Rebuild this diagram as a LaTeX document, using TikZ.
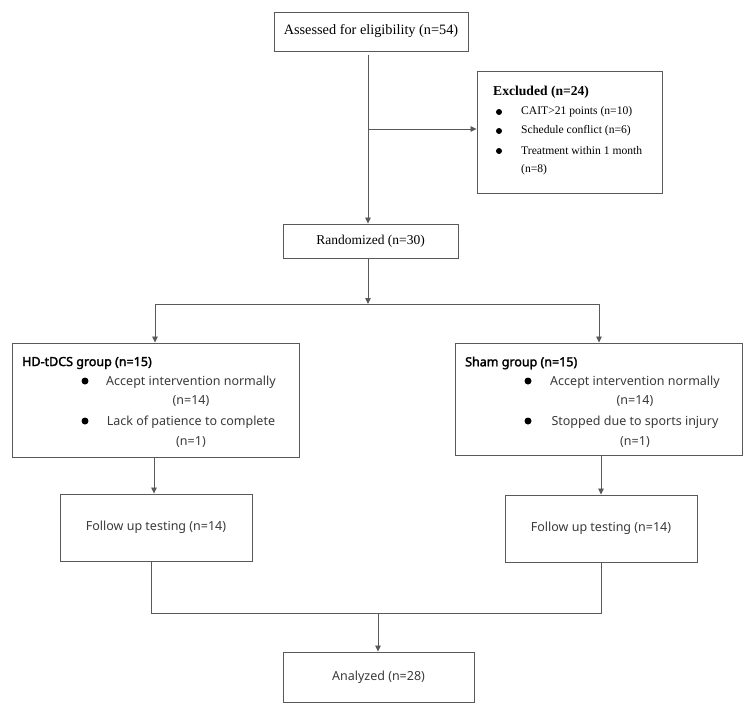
\documentclass[tikz,border=0pt]{standalone}
\usepackage{fontspec}
\setmainfont{Liberation Serif}
\newfontfamily\uisans{Noto Sans}
\newfontfamily\uisansbf[FakeBold=2.2]{Noto Sans}
\usetikzlibrary{arrows.meta}
\definecolor{lngray}{HTML}{595959}
\definecolor{txgray}{HTML}{3A3A3A}
\tikzset{
  box/.style={draw=lngray, line width=0.9pt, rectangle, inner sep=0pt},
  serifbig/.style={font=\fontsize{14.3}{16}\selectfont, text=black, inner sep=0pt},
  serifsmall/.style={font=\fontsize{11.6}{13}\selectfont, text=black, inner sep=0pt, anchor=west},
  sanstxt/.style={font=\uisans\fontsize{12.5}{14}\selectfont, text=txgray, inner sep=0pt},
  sanstitle/.style={font=\uisansbf\fontsize{12.5}{14}\selectfont, text=black, inner sep=0pt, anchor=west},
  conn/.style={draw=lngray, line width=0.8pt},
  arr/.style={conn, -{Triangle[length=6pt,width=5.5pt]}, shorten >=0pt},
  dot/.style={fill=black}
}
\begin{document}
\begin{tikzpicture}[x=1pt,y=-1pt]
\useasboundingbox (0,0) rectangle (751,709);
% boxes
\node[box, minimum width=194pt, minimum height=39pt] (A) at (371,31.5) {};
\node[serifbig] (At) at (371,31.5) {Assessed for eligibility (n=54)};
\node[box, minimum width=185pt, minimum height=122pt] (E) at (569.5,132) {};
\node[serifsmall, font=\bfseries\fontsize{13.6}{15}\selectfont] (Et) at (493,92) {Excluded (n=24)};
\node[serifsmall] (E1) at (521,112) {CAIT>21 points (n=10)};
\node[serifsmall] (E2) at (521,131) {Schedule conflict (n=6)};
\node[serifsmall] (E3) at (521,151) {Treatment within 1 month};
\node[serifsmall] (E4) at (521,170) {(n=8)};
\fill[dot] (499,112) circle (3pt) (499,131) circle (3pt) (499,151) circle (3pt);

\node[box, minimum width=175pt, minimum height=34pt] (R) at (370.5,241) {};
\node[serifbig, font=\fontsize{13.5}{15}\selectfont] (Rt) at (370.5,241) {Randomized (n=30)};

\node[box, minimum width=287pt, minimum height=114pt] (H) at (155.5,400) {};
\node[sanstitle] (Ht) at (22,363) {HD-tDCS group (n=15)};
\node[sanstxt] (H1) at (191,382) {Accept intervention normally};
\node[sanstxt] (H2) at (191,401) {(n=14)};
\node[sanstxt] (H3) at (191,422) {Lack of patience to complete};
\node[sanstxt] (H4) at (191,442) {(n=1)};
\fill[dot] (85,381) circle (3.5pt) (85,421) circle (3.5pt);

\node[box, minimum width=287pt, minimum height=112pt] (S) at (598.5,399) {};
\node[sanstitle] (St) at (465,363) {Sham group (n=15)};
\node[sanstxt] (S1) at (635,382) {Accept intervention normally};
\node[sanstxt] (S2) at (635,401) {(n=14)};
\node[sanstxt] (S3) at (635,422) {Stopped due to sports injury};
\node[sanstxt] (S4) at (635,442) {(n=1)};
\fill[dot] (528,381) circle (3.5pt) (528,421) circle (3.5pt);

\node[box, minimum width=192pt, minimum height=67pt] (F1) at (156,527.5) {};
\node[sanstxt] (F1t) at (156,527.5) {Follow up testing (n=14)};
\node[box, minimum width=192pt, minimum height=67pt] (F2) at (601,528.5) {};
\node[sanstxt] (F2t) at (601,528.5) {Follow up testing (n=14)};

\node[box, minimum width=191pt, minimum height=50pt] (N) at (378.5,677) {};
\node[sanstxt] (Nt) at (378.5,677) {Analyzed (n=28)};

% connectors
\coordinate (a0) at (368,55);
\coordinate (ab) at (368,129);
\coordinate (j1) at (368,304);
\coordinate (jL) at (155,304);
\coordinate (jR) at (599,304);
\coordinate (kL) at (151,613);
\coordinate (kR) at (601,613);
\coordinate (kM) at (378,613);

\draw[arr] (a0) -- (a0 |- R.north);
\draw[arr] (ab) -- (ab -| E.west);
\draw[arr] (j1 |- R.south) -- (j1);
\draw[conn] (jL) -- (jR);
\draw[arr] (jL) -- (jL |- H.north);
\draw[arr] (jR) -- (jR |- S.north);
\draw[arr] (154,0 |- H.south) -- (154,0 |- F1.north);
\draw[arr] (601,0 |- S.south) -- (601,0 |- F2.north);
\draw[conn] (kL |- F1.south) -- (kL) -- (kR) -- (kR |- F2.south);
\draw[arr] (kM) -- (kM |- N.north);
\end{tikzpicture}
\end{document}
